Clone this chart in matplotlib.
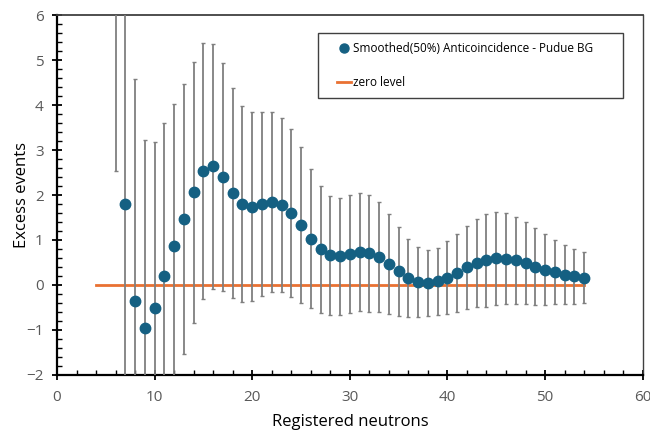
import matplotlib.pyplot as plt
import matplotlib.patches as patches
from matplotlib.lines import Line2D
from matplotlib.ticker import MultipleLocator

plt.rcParams['font.family'] = ['Open Sans', 'DejaVu Sans']

# data
neutrons = list(range(6, 55))
excess = [7.8, 1.81, -0.36, -0.96, -0.52, 0.21, 0.87, 1.47, 2.06, 2.53,
          2.64, 2.40, 2.04, 1.80, 1.74, 1.80, 1.84, 1.78, 1.60, 1.33,
          1.03, 0.79, 0.66, 0.64, 0.69, 0.73, 0.70, 0.62, 0.47, 0.30,
          0.16, 0.07, 0.04, 0.08, 0.16, 0.27, 0.39, 0.49, 0.55, 0.59,
          0.58, 0.55, 0.49, 0.41, 0.34, 0.28, 0.23, 0.19, 0.16]
errors = [5.27, 5.0, 4.94, 4.18, 3.70, 3.39, 3.16, 3.00, 2.90, 2.84,
          2.72, 2.53, 2.33, 2.18, 2.10, 2.04, 2.00, 1.94, 1.86, 1.74,
          1.55, 1.41, 1.32, 1.30, 1.32, 1.31, 1.30, 1.22, 1.11, 0.99,
          0.87, 0.78, 0.74, 0.75, 0.81, 0.87, 0.93, 0.98, 1.03, 1.03,
          1.01, 0.97, 0.92, 0.86, 0.79, 0.71, 0.66, 0.62, 0.57]
zero_x = [4, 54]
zero_y = [0, 0]

blue = '#156082'
orange = '#E97132'

fig = plt.figure(figsize=(6.5, 4.3), dpi=100)
ax = fig.add_axes([0.0877, 0.128, 0.901, 0.837])

ax.errorbar(neutrons, excess, yerr=errors, fmt='o', color=blue,
            markersize=7.5, ecolor='#7f7f7f', elinewidth=1.3,
            capsize=1.5, capthick=1.0, zorder=3)
ax.plot(zero_x, zero_y, color=orange, linewidth=2, zorder=2)

ax.set_xlim(0, 60)
ax.set_ylim(-2, 6)
ax.xaxis.set_major_locator(MultipleLocator(10))
ax.xaxis.set_minor_locator(MultipleLocator(2))
ax.yaxis.set_major_locator(MultipleLocator(1))
ax.yaxis.set_minor_locator(MultipleLocator(0.2))

ax.tick_params(which='major', direction='inout', length=7, width=1.3,
               colors='black', labelcolor='#595959', labelsize=11)
ax.tick_params(which='minor', direction='in', length=3.5, width=1.0, colors='black')
ax.tick_params(axis='y', which='major', pad=6)
ax.tick_params(axis='x', which='major', pad=7)

for side in ['left', 'bottom']:
    ax.spines[side].set_linewidth(1.6)
    ax.spines[side].set_color('black')
ax.spines['top'].set_linewidth(1.3)
ax.spines['top'].set_color('#404040')
ax.spines['right'].set_linewidth(1.0)
ax.spines['right'].set_color('#404040')

ax.set_xlabel('Registered neutrons', fontsize=12, labelpad=7)
ax.set_ylabel('Excess events', fontsize=12, labelpad=-3)

# legend frame drawn separately so the padding matches
frame = patches.Rectangle((0.445, 0.769), 0.521, 0.181, transform=ax.transAxes,
                          facecolor='white', edgecolor='#404040', linewidth=1.0,
                          zorder=5)
ax.add_patch(frame)
handles = [Line2D([], [], linestyle='none', marker='o', markersize=6.5, color=blue),
           Line2D([], [], color=orange, linewidth=2)]
labels = ['Smoothed(50%) Anticoincidence - Pudue BG', 'zero level']
leg = ax.legend(handles, labels,
                loc='upper left', bbox_to_anchor=(0.478, 0.925),
                fontsize=8.5, frameon=False, labelspacing=1.75,
                handlelength=1.2, handletextpad=0.15, borderpad=0,
                borderaxespad=0)
leg.set_zorder(6)

fig.savefig('out.png', dpi=100)
